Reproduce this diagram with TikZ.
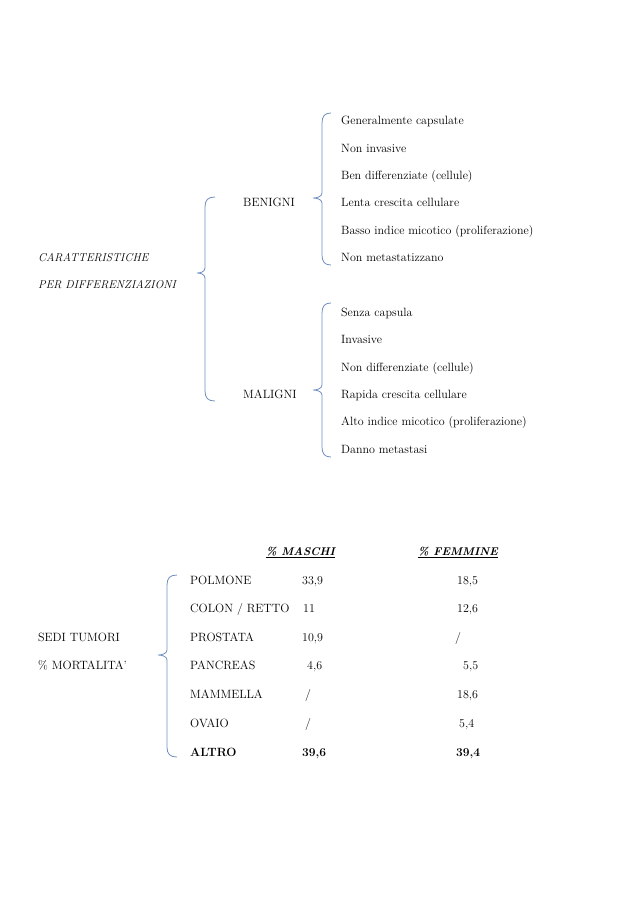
\documentclass[tikz,border=0pt]{standalone}
\usepackage{fontspec}
\definecolor{bracecol}{RGB}{112,142,192}
\newcommand\wbrace[6]{% #1 end x, #2 vertical x, #3 tip x, #4 top y, #5 tip y, #6 bottom y
  \draw[bracestyle] (#1,#4) .. controls (#2+3,#4) and (#2,#4+3) .. (#2,#4+10)
    -- (#2,#5-5) .. controls (#2,#5-1) and (#3+3,#5) .. (#3,#5)
    .. controls (#3+3,#5) and (#2,#5+1) .. (#2,#5+5)
    -- (#2,#6-10) .. controls (#2,#6-3) and (#2+3,#6) .. (#1,#6);}
\begin{document}
\begin{tikzpicture}[x=1pt,y=-1pt,
  bracestyle/.style={draw=bracecol,line width=0.8pt},
  txt/.style={anchor=base west,inner sep=0pt,font=\fontsize{12}{14}\selectfont},
  itxt/.style={txt,font=\fontsize{11.4}{14}\selectfont\itshape},
  hdr/.style={txt,font=\fontsize{11.2}{14}\selectfont\bfseries\itshape},
  btxt/.style={txt,font=\fontsize{12}{14}\selectfont\bfseries}]
\useasboundingbox[fill=white] (0,0) rectangle (637,900);

% ---- top diagram ----
\node[itxt] (car) at (38,261) {CARATTERISTICHE};
\node[itxt] (per) at (38,288) {PER DIFFERENZIAZIONI};
\wbrace{215}{205}{197}{197}{273}{401}

\node[txt] (ben) at (243,206) {BENIGNI};
\node[txt] (mal) at (243,398) {MALIGNI};

\wbrace{331}{322}{313}{113}{198}{265}
\wbrace{331}{322}{313}{303}{390}{457}

\node[txt] (b1) at (341,124) {Generalmente capsulate};
\node[txt] (b2) at (341,152) {Non invasive};
\node[txt] (b3) at (341,179) {Ben differenziate (cellule)};
\node[txt] (b4) at (341,206) {Lenta crescita cellulare};
\node[txt] (b5) at (341,234) {Basso indice micotico (proliferazione)};
\node[txt] (b6) at (341,261) {Non metastatizzano};

\node[txt] (m1) at (341,316) {Senza capsula};
\node[txt] (m2) at (341,343) {Invasive};
\node[txt] (m3) at (341,371) {Non differenziate (cellule)};
\node[txt] (m4) at (341,398) {Rapida crescita cellulare};
\node[txt] (m5) at (341,425) {Alto indice micotico (proliferazione)};
\node[txt] (m6) at (341,453) {Danno metastasi};

% ---- table ----
\node[hdr] (hm) at (266,555) {\underline{\% MASCHI}};
\node[hdr] (hf) at (418,555) {\underline{\% FEMMINE}};

\node[txt] (s1) at (38,641) {SEDI TUMORI};
\node[txt] (s2) at (38,669) {\% MORTALITA’};
\wbrace{177}{167}{158}{575}{655}{757}

\node[txt] (r1) at (190,584) {POLMONE};
\node[txt] (r2) at (190,612) {COLON / RETTO};
\node[txt] (r3) at (190,641) {PROSTATA};
\node[txt] (r4) at (190,669) {PANCREAS};
\node[txt] (r5) at (190,698) {MAMMELLA};
\node[txt] (r6) at (190,727) {OVAIO};
\node[btxt] (r7) at (190,756) {ALTRO};

\node[txt] (v1) at (302,584) {33,9};
\node[txt] (v2) at (303,612) {11};
\node[txt] (v3) at (302,641) {10,9};
\node[txt] (v4) at (307,669) {4,6};
\node[txt] (v5) at (305,698) {/};
\node[txt] (v6) at (305,727) {/};
\node[btxt] (v7) at (302,756) {39,6};

\node[txt] (f1) at (457,584) {18,5};
\node[txt] (f2) at (457,612) {12,6};
\node[txt] (f3) at (455,641) {/};
\node[txt] (f4) at (463,669) {5,5};
\node[txt] (f5) at (457,698) {18,6};
\node[txt] (f6) at (459,727) {5,4};
\node[btxt] (f7) at (456,756) {39,4};
\end{tikzpicture}
\end{document}
